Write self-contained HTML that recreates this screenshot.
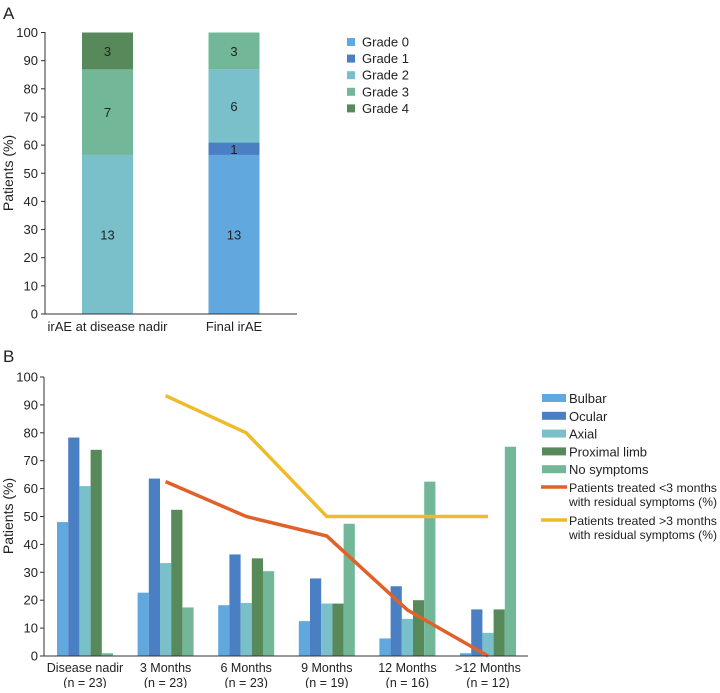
<!DOCTYPE html>
<html><head><meta charset="utf-8"><style>
body{margin:0;background:#fff;font-family:"Liberation Sans",sans-serif}
svg text{font-family:"Liberation Sans",sans-serif;fill:#222}
</style></head><body>
<svg id="s" width="720" height="688" xmlns="http://www.w3.org/2000/svg">
<text x="3" y="19" font-size="17">A</text>
<text x="3" y="362" font-size="17">B</text>
<g id="ga"></g>
<g id="gb"></g>
</svg>
<script>
const NS="http://www.w3.org/2000/svg";
const colors=["#60a8de","#4b7fc3","#79c0ca","#72b898","#58895b"];
// Panel A data
const aCategories=["irAE at disease nadir","Final irAE"];
const aGrades=["Grade 0","Grade 1","Grade 2","Grade 3","Grade 4"];
const aPercent=[[0,0,56.5,30.4,13.1],[56.5,4.4,26.1,13.0,0]];
const aCounts=[[0,0,13,7,3],[13,1,6,3,0]];
const aTicks=[0,10,20,30,40,50,60,70,80,90,100];
// Panel B data
const bCategories=[["Disease nadir","(n = 23)"],["3 Months","(n = 23)"],["6 Months","(n = 23)"],["9 Months","(n = 19)"],["12 Months","(n = 16)"],[">12 Months","(n = 12)"]];
const bSeries=["Bulbar","Ocular","Axial","Proximal limb","No symptoms"];
const bulbar=[48,22.7,18.2,12.5,6.3,1];
const ocular=[78.3,63.6,36.4,27.8,25,16.7];
const axial=[60.9,33.3,19,18.8,13.3,8.3];
const proximal=[73.9,52.4,35,18.8,20,16.7];
const noSymptoms=[1,17.4,30.4,47.4,62.5,75];
const lineUnder3=[null,62.5,50,43,16.5,0];
const lineOver3=[null,93.3,80,50,50,50];
const bTicks=[0,10,20,30,40,50,60,70,80,90,100];

function el(p,tag,attrs,text){const e=document.createElementNS(NS,tag);for(const k in attrs)e.setAttribute(k,attrs[k]);if(text!==undefined)e.textContent=text;p.appendChild(e);return e;}

// Panel A
const ga=document.getElementById('ga');
const ay=v=>314-v*2.815;
const ax=i=>107.5+i*126.5;
aTicks.forEach(t=>{
  const tk=el(ga,'line',{x1:41,x2:45,y1:ay(t),y2:ay(t),stroke:'#333','stroke-width':1});
  
  const tl=el(ga,'text',{x:38,y:ay(t)+4.5,'font-size':13,'text-anchor':'end'},t);
  
});
aCategories.forEach((c,i)=>{
  let base=0;
  aPercent[i].forEach((v,g)=>{
    if(v<=0)return;
    const r=el(ga,'rect',{x:ax(i)-25.5,y:ay(base+v),width:51,height:ay(base)-ay(base+v),fill:colors[g]});
    
    const lt=el(ga,'text',{x:ax(i),y:(ay(base)+ay(base+v))/2+5,'font-size':13,'text-anchor':'middle'},aCounts[i][g]);
    
    base+=v;
  });
  const xl=el(ga,'text',{x:ax(i),y:331,'font-size':13,'text-anchor':'middle'},c);
  
});
let axl=el(ga,'line',{x1:45,x2:45,y1:32,y2:314,stroke:'#333'});
axl=el(ga,'line',{x1:45,x2:297,y1:314,y2:314,stroke:'#333'});
let yt=el(ga,'text',{x:0,y:0,'font-size':14,'text-anchor':'middle',transform:'translate(13,173) rotate(-90)'},'Patients (%)');

aGrades.forEach((g,i)=>{
  const y=42+i*16.6;
  const sq=el(ga,'rect',{x:347,y:y-4,width:8,height:8,fill:colors[i]});
  
  const t=el(ga,'text',{x:362,y:y+4.5,'font-size':13},g);
  
});

// Panel B
const gb=document.getElementById('gb');
const by=v=>656-v*2.79;
const bx=i=>85+i*80.6;
const bw=11.2;
const bOrder=[bulbar,ocular,axial,proximal,noSymptoms];
const bColors=[colors[0],colors[1],colors[2],colors[4],colors[3]];
bTicks.forEach(t=>{
  const tk=el(gb,'line',{x1:40,x2:44,y1:by(t),y2:by(t),stroke:'#333'});
  
  const tl=el(gb,'text',{x:38,y:by(t)+4.5,'font-size':13,'text-anchor':'end'},t);
  
});
bCategories.forEach((c,i)=>{
  bOrder.forEach((arr,s)=>{
    const v=arr[i];
    const r=el(gb,'rect',{x:bx(i)-2.5*bw+s*bw,y:by(v),width:bw,height:656-by(v),fill:bColors[s]});
    
  });
  const t1=el(gb,'text',{x:bx(i),y:672,'font-size':12.5,'text-anchor':'middle'},c[0]);
  
  const t2=el(gb,'text',{x:bx(i),y:687,'font-size':12.5,'text-anchor':'middle'},c[1]);
  
});
function drawLine(arr,col,name){
  const pts=[];arr.forEach((v,i)=>{if(v!==null)pts.push(bx(i)+','+by(v));});
  const p=el(gb,'polyline',{points:pts.join(' '),fill:'none',stroke:col,'stroke-width':3.5});
  
}
drawLine(lineOver3,'#f0bb2a','line-treated-over-3-months');
drawLine(lineUnder3,'#e0622a','line-treated-under-3-months');
axl=el(gb,'line',{x1:44,x2:44,y1:377,y2:656,stroke:'#333'});
axl=el(gb,'line',{x1:44,x2:528,y1:656,y2:656,stroke:'#333'});
yt=el(gb,'text',{x:0,y:0,'font-size':14,'text-anchor':'middle',transform:'translate(13,516) rotate(-90)'},'Patients (%)');

bSeries.forEach((s,i)=>{
  const y=398+i*17.8;
  const sq=el(gb,'rect',{x:542,y:y-4,width:24,height:8,fill:bColors[i]});
  
  const t=el(gb,'text',{x:569,y:y+5,'font-size':13},s);
  
});
[['#e0622a','Patients treated <3 months','with residual symptoms (%)',487],['#f0bb2a','Patients treated >3 months','with residual symptoms (%)',520]].forEach(d=>{
  const l=el(gb,'line',{x1:541,x2:567,y1:d[3],y2:d[3],stroke:d[0],'stroke-width':3.5});
  
  const t1=el(gb,'text',{x:569,y:d[3]+5,'font-size':12,textLength:148,lengthAdjust:'spacingAndGlyphs'},d[1]);
  
  const t2=el(gb,'text',{x:569,y:d[3]+19,'font-size':12,textLength:148,lengthAdjust:'spacingAndGlyphs'},d[2]);
  
});
</script>
</body></html>
